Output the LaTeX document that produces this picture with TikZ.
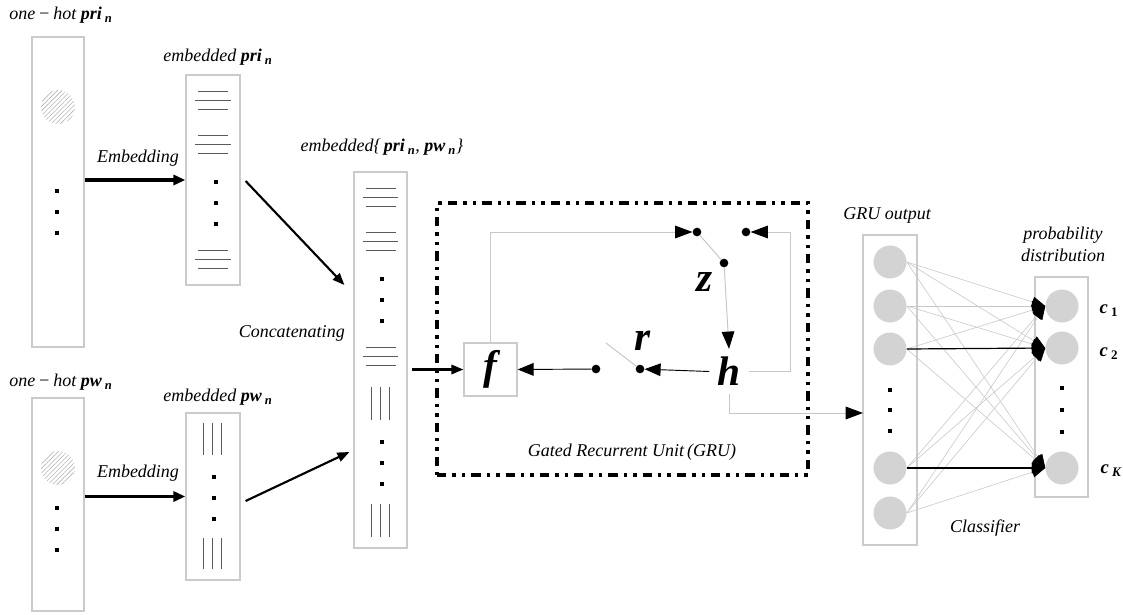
\documentclass[tikz,border=0pt]{standalone}
\usepackage{fontspec}
\setmainfont{Liberation Serif}
\usetikzlibrary{arrows.meta,patterns.meta,calc}
\newdimen\pxu \pxu=0.75pt
\definecolor{boxc}{HTML}{CBCBCB}
\definecolor{dgray}{HTML}{5A5A5A}
\definecolor{lgray}{HTML}{C8C8C8}
\definecolor{ncol}{HTML}{D3D3D3}
\definecolor{hcol}{HTML}{B4B4B4}
\begin{document}
\begin{tikzpicture}[x=0.75pt,y=-0.75pt,
  vbox/.style={draw=boxc, line width=0.9pt, inner sep=0pt},
  grubox/.style={draw=black, line width=2.7pt, inner sep=0pt,
    dash pattern=on 7pt off 4.5pt on 2.6pt off 4.5pt on 2.6pt off 4.5pt},
  lbl/.style={font=\fontsize{13.5}{16.5}\selectfont\itshape, inner sep=0pt},
  var/.style={font=\fontsize{31}{33}\selectfont\bfseries\itshape},
  clab/.style={font=\fontsize{14}{16}\selectfont\bfseries\itshape, inner sep=0pt},
  embl/.style={draw=dgray, line width=0.6pt},
  hatch/.style={pattern={Lines[angle=45,distance=2.4pt,line width=0.45pt]}, pattern color=hcol},
  thickarr/.style={-{Triangle[length=9pt,width=7.5pt]}, line width=2.3pt},
  midarr/.style={-{Triangle[length=9pt,width=7pt]}, line width=1.6pt},
  blk/.style={-{Triangle[length=12pt,width=9.5pt]}, line width=0.7pt},
  gl/.style={draw=lgray, line width=0.75pt},
  gtip/.style={gl, -{Triangle[length=13pt,width=9.5pt,color=black]}},
  gdot/.style={circle, fill=black, inner sep=0pt, minimum size=6.5pt},
  neuron/.style={circle, fill=ncol, inner sep=0pt, minimum size=33\pxu},
  cl/.style={draw=lgray, line width=0.45pt, -{Triangle[length=10pt,width=8pt,color=black]}},
  clb/.style={draw=black, line width=0.9pt, -{Triangle[length=10pt,width=8pt,color=black]}}
]
\useasboundingbox (0,0) rectangle (1123,614);

% ---------- boxes ----------
\node[vbox, minimum width=52\pxu, minimum height=310\pxu] (oh1) at (58,192) {};
\node[vbox, minimum width=52\pxu, minimum height=213\pxu] (oh2) at (58,504.5) {};
\node[vbox, minimum width=54\pxu, minimum height=210\pxu] (ep) at (213,180) {};
\node[vbox, minimum width=54\pxu, minimum height=167\pxu] (ew) at (213,496.5) {};
\node[vbox, minimum width=53\pxu, minimum height=376\pxu] (cat) at (380.5,360) {};
\node[vbox, var, inner sep=0pt, minimum width=53\pxu, minimum height=53\pxu] (fbox) at (490.5,369.5) {f};
\node[vbox, minimum width=54\pxu, minimum height=310\pxu] (gout) at (890,390) {};
\node[vbox, minimum width=53\pxu, minimum height=220\pxu] (prob) at (1061.5,387) {};
\node[grubox, minimum width=371\pxu, minimum height=272\pxu] (gru) at (622.5,339) {};

% ---------- hatched one-hot entries ----------
\fill[hatch] (58,107) circle[radius=17\pxu];
\fill[hatch] (58,468) circle[radius=17\pxu];

% ---------- vertical dots ----------
\foreach \x/\y in {57/191,57/212,57/233,57/508,57/529,57/550,
                   216/182,216/203,216/224,214/477,214/498,214/519,
                   382/279,382/300,382/321,382/442,382/463,382/484,
                   890/390,890/410,890/431,1062/388,1062/410,1062/432}
  \fill (\x-1.7,\y-1.7) rectangle (\x+1.7,\y+1.7);

% ---------- embedding line groups ----------
\foreach \y in {91,135,250} {
  \draw[embl] (198,\y) -- (228,\y);
  \draw[embl] (195,\y+9) -- (231,\y+9);
  \draw[embl] (198,\y+18) -- (228,\y+18);
}
\foreach \y in {188,232,347} {
  \draw[embl] (366,\y) -- (396,\y);
  \draw[embl] (363,\y+9) -- (398,\y+9);
  \draw[embl] (366,\y+18) -- (396,\y+18);
}
\foreach \x in {203,212,221} {
  \draw[embl] (\x,423) -- (\x,455);
  \draw[embl] (\x,538) -- (\x,569);
}
\foreach \x in {371,380,389} {
  \draw[embl] (\x,387) -- (\x,420);
  \draw[embl] (\x,504) -- (\x,537);
}

% ---------- left arrows ----------
\draw[thickarr] (oh1.east |- ep.west) -- (ep.west);
\draw[thickarr] (oh2.east |- ew.west) -- (ew.west);
\draw[midarr] ([shift={(5,1)}]ep.east) -- ([shift={(-9,-75)}]cat.west);
\draw[midarr] ([shift={(5,4.5)}]ew.east) -- ([shift={(-4,92)}]cat.west);
\draw[midarr] ($(cat.east |- fbox.west)+(4,0)$) -- (fbox.west);

% ---------- GRU internals ----------
\node[var, inner sep=6pt] (h) at (729,371.5) {h};
\node[gdot] (d1) at (596,369) {};
\node[gdot] (d2) at (640,369) {};
\node[gdot] (dz1) at (697,232) {};
\node[gdot] (dz2) at (724,263) {};
\node[gdot] (dz3) at (746,232) {};
\node[var, inner sep=0pt] (r) at (643,341) {r};
\node[var, inner sep=0pt] (z) at (705,282) {z};
\coordinate (ra) at (606,343);
\coordinate (rc) at (790,232);
\coordinate (gin) at (863,413);

\draw[gl] (ra) -- (d2);
\draw[blk] (d1) -- (fbox.east);
\draw[blk] (h.west) -- (d2);
\draw[gtip] (fbox.north) |- (dz1);
\draw[gl] (dz1) -- (dz2);
\draw[gtip] (dz2) -- (h.north);
\draw[gtip] (h.east) -| (rc) -- (dz3);
\draw[gtip] (h.south) |- (gin);

% ---------- classifier ----------
\foreach \i/\y in {1/262,2/306,3/349,4/468,5/513}
  \node[neuron] (L\i) at (890,\y) {};
\foreach \i/\y in {1/306,2/348,3/468}
  \node[neuron] (R\i) at (1062,\y) {};
\foreach \i in {1,...,5}
  \foreach \j in {1,2,3}
    \draw[cl] (L\i.east) -- (R\j.west);
\draw[clb] (L3.east) -- (R2.west);
\draw[clb] (L4.east) -- (R3.west);

% ---------- labels ----------
\node[lbl, anchor=west] (t1) at (9,15) {one\,−\,hot \textbf{pri}\,\textsubscript{\textbf{n}}};
\node[lbl] (t2) at (218,57) {embedded \textbf{pri}\,\textsubscript{\textbf{n}}};
\node[lbl] (t3) at (138,158) {Embedding};
\node[lbl] (t4) at (382,147) {embedded\{\,\textbf{pri}\,\textsubscript{\textbf{n}}, \textbf{pw}\,\textsubscript{\textbf{n}}\}};
\node[lbl, anchor=east] (t5) at (345,333) {Concatenating};
\node[lbl, anchor=west] (t6) at (9,382) {one\,−\,hot \textbf{pw}\,\textsubscript{\textbf{n}}};
\node[lbl] (t7) at (218,397) {embedded \textbf{pw}\,\textsubscript{\textbf{n}}};
\node[lbl] (t8) at (138,473) {Embedding};
\node[lbl] (t9) at (632,452) {Gated Recurrent Unit\,(GRU)};
\node[lbl] (t10) at (887,215) {GRU output};
\node[lbl, align=center] (t11) at (1063,244) {probability\\distribution};
\node[lbl] (t12) at (985,528) {Classifier};
\node[clab] (c1) at (1109,311) {c\,\textsubscript{\upshape 1}};
\node[clab] (c2) at (1109,354) {c\,\textsubscript{\upshape 2}};
\node[clab] (cK) at (1111,471) {c\,\textsubscript{K}};
\end{tikzpicture}
\end{document}
